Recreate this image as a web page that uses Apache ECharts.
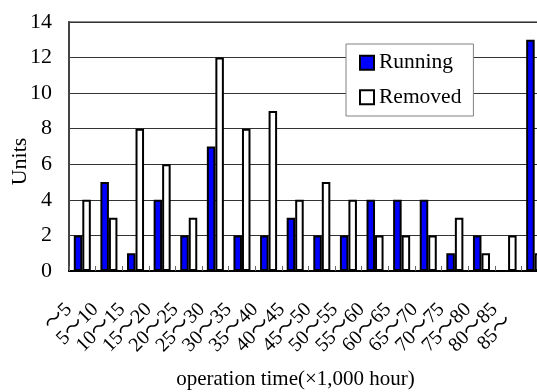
<!DOCTYPE html>
<html>
<head>
<meta charset="utf-8">
<script src="https://cdn.jsdelivr.net/npm/echarts@6/dist/echarts.min.js"></script>
<style>
html,body{margin:0;padding:0;background:#fff;}
#main{width:537px;height:392px;}
</style>
</head>
<body>
<div id="main"></div>
<script>
var categories = ['〜5','5〜10','10〜15','15〜20','20〜25','25〜30','30〜35','35〜40','40〜45','45〜50','50〜55','55〜60','60〜65','65〜70','70〜75','75〜80','80〜85','85〜'];
var running = [2,5,1,4,2,7,2,2,3,2,2,4,4,4,1,2,0,13];
var removed = [4,3,8,6,3,12,8,9,4,5,4,2,2,2,3,1,2,1];
var yTicks = {min:0, max:14, interval:2};

var FONT = '"Liberation Serif","Times New Roman","Noto Sans CJK JP",serif';
var chart = echarts.init(document.getElementById('main'), null, {renderer:'canvas'});
chart.setOption({
  animation:false,
  backgroundColor:'#fff',
  textStyle:{fontFamily:FONT, color:'#000'},
  grid:{left:69, right:-11, top:22, bottom:121, containLabel:false, outerBoundsMode:'none',
        show:true, borderColor:'#8a8a8a', borderWidth:2, backgroundColor:'transparent'},
  legend:{
    orient:'vertical', left:346, top:44,
    padding:[8,12,8,13], itemGap:13, itemWidth:14, itemHeight:14,
    backgroundColor:'#fff', borderColor:'#808080', borderWidth:1, borderRadius:0,
    textStyle:{fontFamily:FONT, fontSize:21.5, color:'#000'},
    itemStyle:{borderColor:'#000', borderWidth:2},
    data:[{name:'Running', icon:'rect'},{name:'Removed', icon:'rect'}]
  },
  xAxis:{
    type:'category', data:categories,
    name:'operation time(×1,000 hour)', nameLocation:'middle', nameGap:98,
    nameTextStyle:{fontFamily:FONT, fontSize:21, color:'#000', padding:[0,26,0,0]},
    axisLine:{lineStyle:{color:'#000', width:2}},
    axisTick:{show:true, inside:true, length:5, lineStyle:{color:'#666'}},
    axisLabel:{interval:0, rotate:45, margin:22, fontFamily:FONT, fontSize:20, color:'#000',
      formatter:function(v, i){ return i === categories.length - 1 ? '{last|' + v + '}' : '{n|' + v + '}'; },
      rich:{
        n:{fontFamily:FONT, fontSize:20, color:'#000', padding:[0,19,0,0]},
        last:{fontFamily:FONT, fontSize:20, color:'#000', padding:[0,36,0,0]}
      }
    }
  },
  yAxis:{
    type:'value', min:yTicks.min, max:yTicks.max, interval:yTicks.interval,
    name:'Units', nameLocation:'middle', nameGap:38, nameMoveOverlap:false,
    nameTextStyle:{fontFamily:FONT, fontSize:22, color:'#000', padding:[0,30,0,0]},
    axisLine:{show:true, lineStyle:{color:'#444', width:2}},
    axisTick:{show:false},
    axisLabel:{margin:17, fontFamily:FONT, fontSize:22, color:'#000'},
    splitLine:{show:true, lineStyle:{color:'#333', width:1}}
  },
  series:[
    {name:'Running', type:'bar', data:running, barGap:'0%', barCategoryGap:'36%',
     itemStyle:{color:'#0000FF', borderColor:'#000', borderWidth:2}},
    {name:'Removed', type:'bar', data:removed, barGap:'0%', barCategoryGap:'36%',
     itemStyle:{color:'#FFFFFF', borderColor:'#000', borderWidth:2}}
  ]
});
</script>
</body>
</html>
